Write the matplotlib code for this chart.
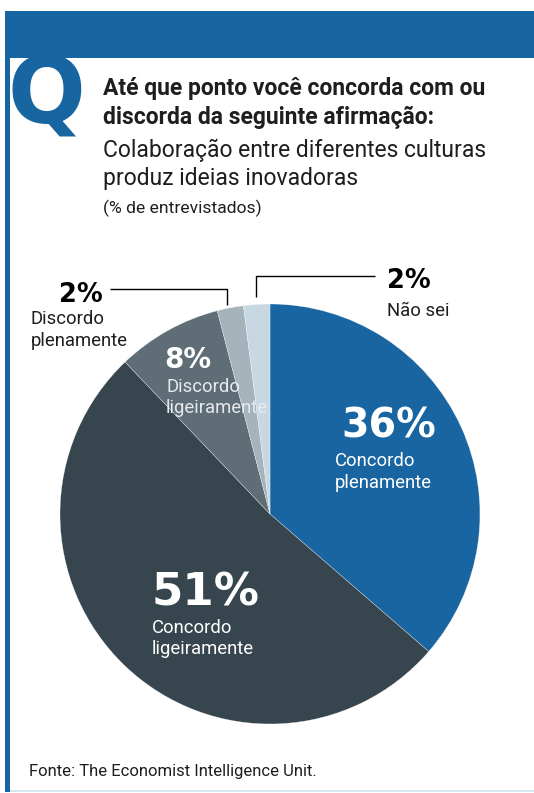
import matplotlib
matplotlib.use("Agg")
import matplotlib.pyplot as plt
from matplotlib.patches import Rectangle

# Survey answers, clockwise from 12 o'clock
categories = ["Concordo plenamente", "Concordo ligeiramente", "Discordo ligeiramente",
              "Discordo plenamente", "Não sei"]
values = [36, 51, 8, 2, 2]
value_labels = ["36%", "51%", "8%", "2%", "2%"]
slice_colors = ["#1865a1", "#36454e", "#5e6d76", "#a5b3bb", "#c8d8e2"]

title_bold = ["Até que ponto você concorda com ou", "discorda da seguinte afirmação:"]
title_regular = ["Colaboração entre diferentes culturas", "produz ideias inovadoras"]
unit_note = "(% de entrevistados)"
source_note = "Fonte: The Economist Intelligence Unit."

W, H = 534, 793
BLUE = "#1866a1"
DARK = "#1e1e1e"
SANS = ["Roboto", "DejaVu Sans"]
NUM = ["DejaVu Sans"]

fig = plt.figure(figsize=(W / 100, H / 100), dpi=100)
fig.patch.set_facecolor("white")

# Pie in its own axes: centre (270, 514) px, radius 210 px
cx, cy, r = 270, 514, 210
pax = fig.add_axes([(cx - r) / W, (H - cy - r) / H, 2 * r / W, 2 * r / H])
pax.set_zorder(1)
pax.pie(values, colors=slice_colors, startangle=90, counterclock=False,
        radius=1.0, wedgeprops=dict(edgecolor="white", linewidth=0.2))
pax.set_xlim(-1, 1)
pax.set_ylim(-1, 1)
pax.set_aspect("auto")
pax.axis("off")

# Overlay in pixel coordinates for frame, lettering and leaders
ov = fig.add_axes([0, 0, 1, 1])
ov.set_zorder(2)
ov.set_xlim(0, W)
ov.set_ylim(H, 0)
ov.axis("off")
ov.patch.set_alpha(0)

# Frame: top band, left rule, bottom rule
ov.add_patch(Rectangle((5, 11), W - 5, 47, color=BLUE, lw=0))
ov.add_patch(Rectangle((5, 11), 5, 781, color=BLUE, lw=0))
ov.add_patch(Rectangle((10, 790), W - 10, 1.5, color="#d6e6f1", lw=0))

# Big Q
ov.text(8, 123, "Q", color=BLUE, fontsize=66, fontweight="bold",
        family=["DejaVu Sans"], ha="left", va="baseline")

# Heading
ov.text(103, 95, title_bold[0], fontsize=16.5, fontweight="bold", color=DARK,
        family=SANS, ha="left", va="baseline")
ov.text(103, 124, title_bold[1], fontsize=16.5, fontweight="bold", color=DARK,
        family=SANS, ha="left", va="baseline")
ov.text(103, 157, title_regular[0], fontsize=16.5, color=DARK,
        family=SANS, ha="left", va="baseline")
ov.text(103, 185, title_regular[1], fontsize=16.5, color=DARK,
        family=SANS, ha="left", va="baseline")
ov.text(103, 213, unit_note, fontsize=12.6, color=DARK,
        family=SANS, ha="left", va="baseline")


def label(x, y, num, size, lines, lx, ly, lsize, ncol, tcol, gap):
    ov.text(x, y, num, fontsize=size, fontweight="bold", color=ncol,
            family=NUM, ha="left", va="baseline")
    for i, ln in enumerate(lines):
        ov.text(lx, ly + i * gap, ln, fontsize=lsize, color=tcol,
                family=SANS, ha="left", va="baseline")


label(341, 437, value_labels[0], 28.5, ["Concordo", "plenamente"], 335, 466, 13.3,
      "white", "white", 22)
label(152, 605, value_labels[1], 32.5, ["Concordo", "ligeiramente"], 152, 633, 13.3,
      "white", "white", 21)
label(164, 368, value_labels[2], 20, ["Discordo", "ligeiramente"], 166, 392, 13.3,
      "white", "#e6eaed", 21)
label(59, 302, value_labels[3], 18.5, ["Discordo", "plenamente"], 31, 324, 13.3,
      "black", DARK, 22)
label(387, 288, value_labels[4], 18.5, ["Não sei"], 387, 316, 13.3,
      "black", DARK, 22)

# Leader lines for the two thin slices
ov.plot([110, 227, 227], [289, 289, 305], color="black", lw=1.0, solid_capstyle="butt")
ov.plot([375, 256, 256], [276, 276, 297], color="black", lw=1.0, solid_capstyle="butt")

# Source
ov.text(29, 776, source_note, fontsize=12, color=DARK, family=SANS,
        ha="left", va="baseline")

fig.savefig("out.png", dpi=100)
